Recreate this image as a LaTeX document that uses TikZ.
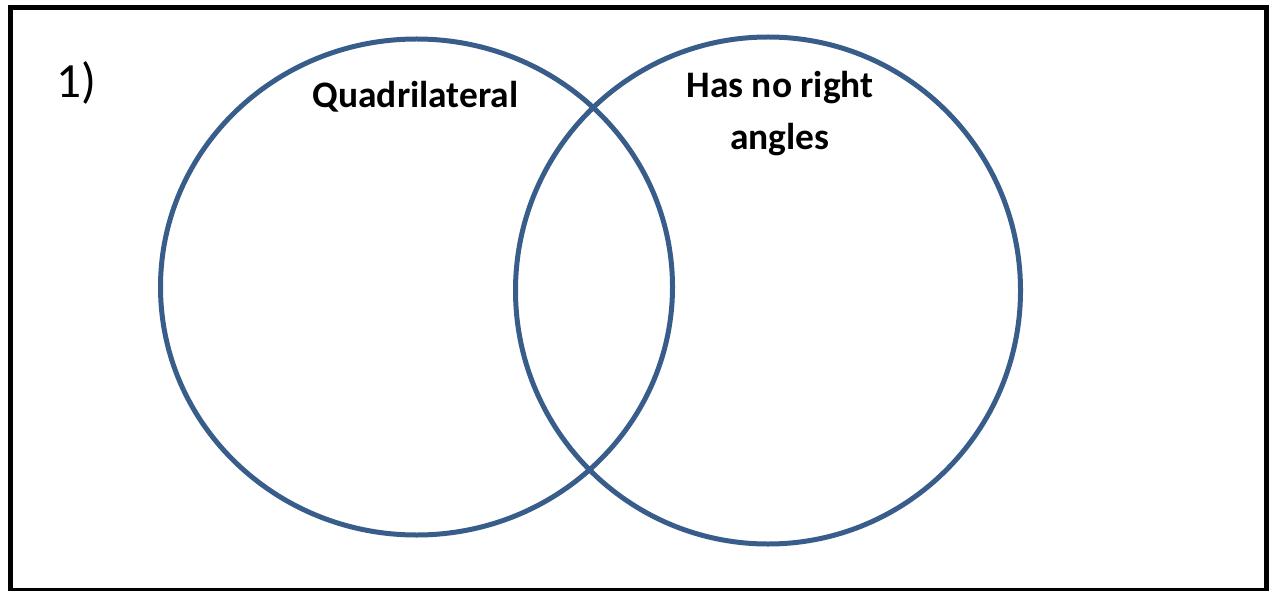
\documentclass[tikz,border=0pt]{standalone}
\usepackage{fontspec}
\setmainfont{Carlito}
\usepackage{tikz}

\definecolor{venblue}{RGB}{56,93,138}

\tikzset{
    setline/.style={draw=venblue,line width=0.1cm},
    setlabel/.style={font=\fontsize{21.3}{29.5}\selectfont\bfseries,align=center}
}

\begin{document}
\begin{tikzpicture}[x=0.02cm,y=-0.02cm]

\useasboundingbox (0,0) rectangle (1270,591);

% Frame
\draw[line width=0.1cm] (10.5,7.5) rectangle (1266.5,590.5);

% Sets
\draw[setline] (416.5,287) ellipse (256 and 248);
\draw[setline] (768,290.5) ellipse (252.5 and 253.5);

% Labels
\node (num) at (76,83) {\fontsize{28}{32}\selectfont 1)};
\node[setlabel] (quad) at (415.5,96.5) {Quadrilateral};
\node[setlabel] (noright) at (780,113.5) {Has no right\\angles};

\end{tikzpicture}
\end{document}
